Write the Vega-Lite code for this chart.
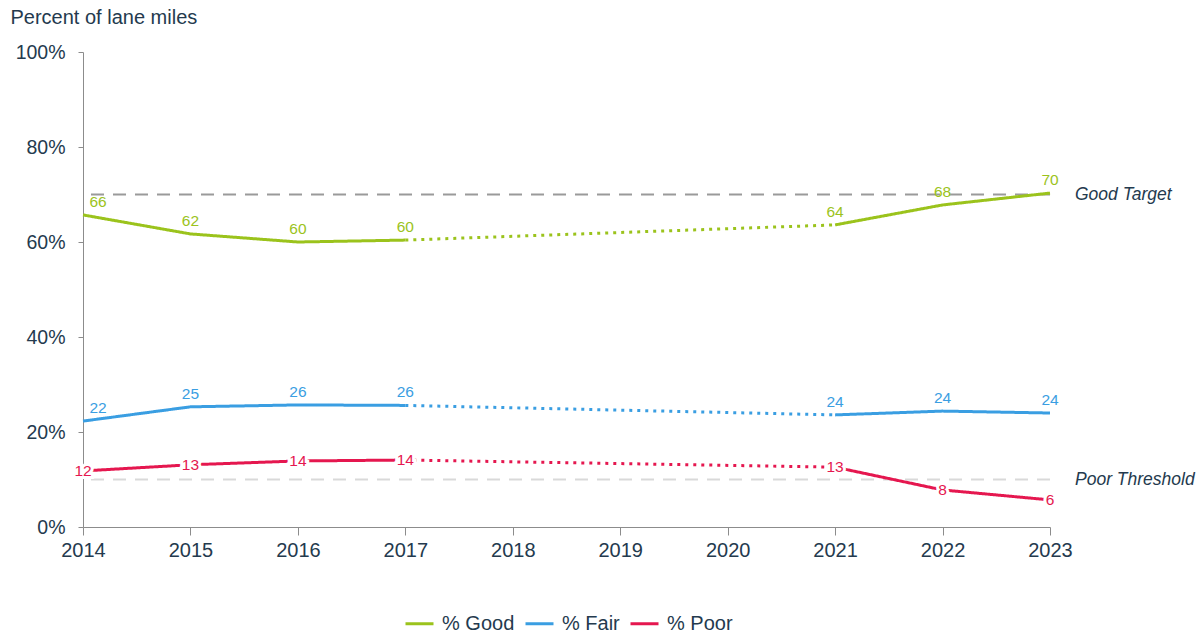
{
  "$schema": "https://vega.github.io/schema/vega-lite/v6.json",
  "width": 967,
  "height": 475,
  "autosize": {"type": "none"},
  "padding": {"left": 83, "top": 52, "right": 152, "bottom": 108},
  "background": "white",
  "config": {
    "view": {"stroke": null},
    "font": "Liberation Sans",
    "axis": {"grid": false, "labelFont": "Liberation Sans", "titleFont": "Liberation Sans"}
  },
  "datasets": {
    "lines": [
      {"series": "% Good", "year": 2014, "value": 65.7, "part": "a", "style": "solid"},
      {"series": "% Good", "year": 2015, "value": 61.7, "part": "a", "style": "solid"},
      {"series": "% Good", "year": 2016, "value": 60.0, "part": "a", "style": "solid"},
      {"series": "% Good", "year": 2017, "value": 60.4, "part": "a", "style": "solid"},
      {"series": "% Good", "year": 2017, "value": 60.4, "part": "b", "style": "dotted"},
      {"series": "% Good", "year": 2021, "value": 63.6, "part": "b", "style": "dotted"},
      {"series": "% Good", "year": 2021, "value": 63.6, "part": "c", "style": "solid"},
      {"series": "% Good", "year": 2022, "value": 67.8, "part": "c", "style": "solid"},
      {"series": "% Good", "year": 2023, "value": 70.3, "part": "c", "style": "solid"},
      {"series": "% Fair", "year": 2014, "value": 22.3, "part": "a", "style": "solid"},
      {"series": "% Fair", "year": 2015, "value": 25.3, "part": "a", "style": "solid"},
      {"series": "% Fair", "year": 2016, "value": 25.7, "part": "a", "style": "solid"},
      {"series": "% Fair", "year": 2017, "value": 25.6, "part": "a", "style": "solid"},
      {"series": "% Fair", "year": 2017, "value": 25.6, "part": "b", "style": "dotted"},
      {"series": "% Fair", "year": 2021, "value": 23.6, "part": "b", "style": "dotted"},
      {"series": "% Fair", "year": 2021, "value": 23.6, "part": "c", "style": "solid"},
      {"series": "% Fair", "year": 2022, "value": 24.4, "part": "c", "style": "solid"},
      {"series": "% Fair", "year": 2023, "value": 24.0, "part": "c", "style": "solid"},
      {"series": "% Poor", "year": 2014, "value": 11.8, "part": "a", "style": "solid"},
      {"series": "% Poor", "year": 2015, "value": 13.1, "part": "a", "style": "solid"},
      {"series": "% Poor", "year": 2016, "value": 13.9, "part": "a", "style": "solid"},
      {"series": "% Poor", "year": 2017, "value": 14.1, "part": "a", "style": "solid"},
      {"series": "% Poor", "year": 2017, "value": 14.1, "part": "b", "style": "dotted"},
      {"series": "% Poor", "year": 2021, "value": 12.6, "part": "b", "style": "dotted"},
      {"series": "% Poor", "year": 2021, "value": 12.6, "part": "c", "style": "solid"},
      {"series": "% Poor", "year": 2022, "value": 7.8, "part": "c", "style": "solid"},
      {"series": "% Poor", "year": 2023, "value": 5.7, "part": "c", "style": "solid"}
    ],
    "refs": [
      {"name": "Good Target", "value": 70, "kind": "good"},
      {"name": "Poor Threshold", "value": 10, "kind": "poor"}
    ]
  },
  "layer": [
    {
      "data": {"name": "refs"},
      "mark": {"type": "rule", "strokeWidth": 2, "strokeDash": [13, 9]},
      "encoding": {
        "y": {"field": "value", "type": "quantitative", "scale": {"domain": [0, 100]}},
        "stroke": {"field": "kind", "type": "nominal", "scale": {"domain": ["good", "poor"], "range": ["#9a9a9a", "#d9d9d9"]}, "legend": null}
      }
    },
    {
      "data": {"name": "refs"},
      "mark": {"type": "text", "align": "left", "baseline": "middle", "dx": 25, "fontSize": 17.5, "fontStyle": "italic", "color": "#243A4E"},
      "encoding": {
        "x": {"datum": 2023, "type": "quantitative"},
        "y": {"field": "value", "type": "quantitative"},
        "text": {"field": "name"}
      }
    },
    {
      "data": {"name": "lines"},
      "mark": {"type": "line", "strokeWidth": 3},
      "encoding": {
        "x": {
          "field": "year", "type": "quantitative",
          "scale": {"domain": [2014, 2023], "nice": false, "zero": false},
          "axis": {
            "title": null, "format": "d", "values": [2014, 2015, 2016, 2017, 2018, 2019, 2020, 2021, 2022, 2023],
            "labelFontSize": 20, "labelColor": "#243A4E", "domainColor": "#8c8c8c", "tickColor": "#8c8c8c",
            "tickSize": 8, "labelPadding": 5, "domainWidth": 1, "labelFlush": false, "labelBound": false, "labelOverlap": false
          }
        },
        "y": {
          "field": "value", "type": "quantitative",
          "scale": {"domain": [0, 100], "nice": false},
          "axis": {
            "title": "Percent of lane miles", "titleAngle": 0, "titleAlign": "left", "titleBaseline": "top",
            "titleX": -73, "titleY": -45, "titleFontSize": 20, "titleFontWeight": "normal", "titleColor": "#243A4E",
            "values": [0, 20, 40, 60, 80, 100], "labelExpr": "datum.value + '%'",
            "labelFontSize": 19.5, "labelColor": "#243A4E", "domainColor": "#8c8c8c", "tickColor": "#8c8c8c",
            "tickSize": 5, "labelPadding": 13
          }
        },
        "color": {
          "field": "series", "type": "nominal",
          "scale": {"domain": ["% Good", "% Fair", "% Poor"], "range": ["#9BC31C", "#3A9EE2", "#E5174F"]},
          "legend": {
            "title": null, "orient": "none", "direction": "horizontal", "legendX": 321, "legendY": 556,
            "symbolType": "stroke", "symbolStrokeWidth": 3, "symbolSize": 784, "labelFontSize": 20,
            "labelColor": "#243A4E", "columnPadding": 4, "labelOffset": 7
          }
        },
        "strokeDash": {
          "field": "style", "type": "nominal",
          "scale": {"domain": ["solid", "dotted"], "range": [[1, 0], [3, 5]]},
          "legend": null
        },
        "detail": {"field": "part"}
      }
    },
    {
      "data": {"name": "lines"},
      "transform": [{"filter": "datum.part != 'b' && datum.series != '% Poor' && datum.year != 2014"}],
      "mark": {"type": "text", "baseline": "bottom", "dy": -5, "fontSize": 15.5},
      "encoding": {
        "x": {"field": "year", "type": "quantitative"},
        "y": {"field": "value", "type": "quantitative"},
        "text": {"field": "value", "format": ".0f"},
        "color": {"field": "series", "type": "nominal", "legend": null}
      }
    },
    {
      "data": {"name": "lines"},
      "transform": [{"filter": "datum.series != '% Poor' && datum.year == 2014"}],
      "mark": {"type": "text", "baseline": "bottom", "dy": -5, "dx": 15, "fontSize": 15.5},
      "encoding": {
        "x": {"field": "year", "type": "quantitative"},
        "y": {"field": "value", "type": "quantitative"},
        "text": {"field": "value", "format": ".0f"},
        "color": {"field": "series", "type": "nominal", "legend": null}
      }
    },
    {
      "data": {"name": "lines"},
      "transform": [{"filter": "datum.part != 'b' && datum.series == '% Poor'"}],
      "mark": {"type": "text", "baseline": "middle", "fontSize": 15.5, "stroke": "white", "strokeWidth": 6, "fill": "white"},
      "encoding": {
        "x": {"field": "year", "type": "quantitative"},
        "y": {"field": "value", "type": "quantitative"},
        "text": {"field": "value", "format": ".0f"}
      }
    },
    {
      "data": {"name": "lines"},
      "transform": [{"filter": "datum.part != 'b' && datum.series == '% Poor'"}],
      "mark": {"type": "text", "baseline": "middle", "fontSize": 15.5},
      "encoding": {
        "x": {"field": "year", "type": "quantitative"},
        "y": {"field": "value", "type": "quantitative"},
        "text": {"field": "value", "format": ".0f"},
        "color": {"field": "series", "type": "nominal", "legend": null}
      }
    }
  ]
}
